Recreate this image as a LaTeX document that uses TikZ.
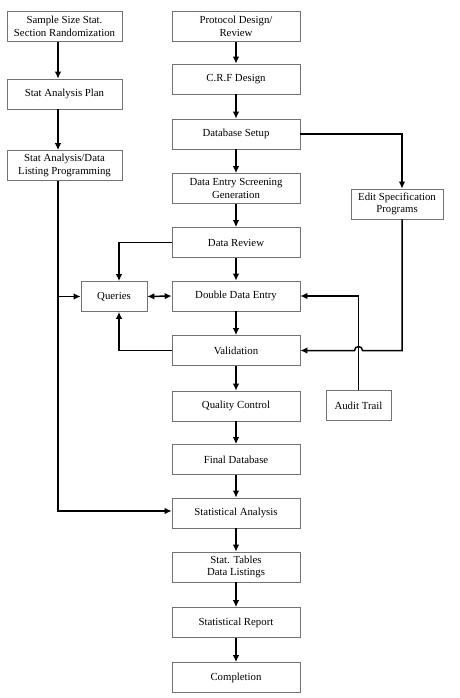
\documentclass[tikz,border=0pt]{standalone}
\usepackage{fontspec}
\setmainfont{Liberation Serif}
\usetikzlibrary{calc,arrows.meta}
\begin{document}
\begin{tikzpicture}[x=1pt,y=1pt,
  box/.style={draw=black!55, line width=0.6pt, rectangle, align=center,
    minimum height=30pt, inner sep=1pt, font=\fontsize{10.8}{12.5}\selectfont},
  mainbox/.style={box, minimum width=128pt},
  sidebox/.style={box, minimum width=115pt},
  arr/.style={line width=1.5pt, ->, >={Latex[length=7pt,width=6.5pt]}}]
\useasboundingbox (0,0) rectangle (459,-698);
% left column
\node [sidebox] (ss)  at (64.5,-26.5) {Sample Size Stat.\\Section Randomization};
\node [sidebox] (sap) at (64.5,-94) {Stat Analysis Plan};
\node [sidebox] (sdl) at (64.5,-165.5) {Stat Analysis/Data\\Listing Programming};
% main column
\node [mainbox] (pdr) at (236,-26.5) {Protocol Design/\\Review};
\node [mainbox] (crf) at (236,-79) {C.R.F Design};
\node [mainbox] (dbs) at (236,-134) {Database Setup};
\node [mainbox] (des) at (236,-188.5) {Data Entry Screening\\Generation};
\node [mainbox] (drv) at (236,-242.5) {Data Review};
\node [mainbox] (dde) at (236,-296) {Double Data Entry};
\node [mainbox] (val) at (236,-350.5) {Validation};
\node [mainbox] (qc)  at (236,-406) {Quality Control};
\node [mainbox] (fdb) at (236,-459.5) {Final Database};
\node [mainbox] (sta) at (236,-513) {Statistical Analysis};
\node [mainbox] (stl) at (236,-567) {Stat. Tables\\Data Listings};
\node [mainbox] (srp) at (236,-622.5) {Statistical Report};
\node [mainbox] (cpl) at (236,-677.5) {Completion};
% side boxes
\node [box, minimum width=66pt] (qry) at (114,-296.5) {Queries};
\node [box, minimum width=92pt] (esp) at (397,-204) {Edit Specification\\Programs};
\node [box, minimum width=65pt] (adt) at (358.5,-405.5) {Audit Trail};
% arrows
\foreach \a/\b in {pdr/crf,crf/dbs,dbs/des,des/drv,drv/dde,dde/val,val/qc,qc/fdb,fdb/sta,sta/stl,stl/srp,srp/cpl}
  \draw [arr] (\a.south) -- (\b.north);
\draw [arr] ([xshift=-6.5pt]ss.south) -- ([xshift=-6.5pt]sap.north);
\draw [arr] ([xshift=-6.5pt]sap.south) -- ([xshift=-6.5pt]sdl.north);
\coordinate (lx) at ([xshift=-6.5pt]sdl.south);
\draw [arr] (lx) |- ([yshift=2pt]sta.west);
\draw [arr] (qry.west -| lx) -- (qry.west);
\draw [arr] (drv.west) -| ([xshift=5pt]qry.north);
\draw [arr] (val.west) -| ([xshift=5pt]qry.south);
\draw [arr, <->] (qry.east) -- (dde.east -| dde.west);
\draw [arr] (dbs.east) -| ([xshift=5pt]esp.north);
\draw [arr] (adt.north) |- (dde.east);
\draw [arr] ([xshift=5pt]esp.south) |- ($(adt.north |- val.east)+(4,0)$)
  arc [start angle=0, end angle=180, radius=4pt] -- (val.east);
\end{tikzpicture}
\end{document}
